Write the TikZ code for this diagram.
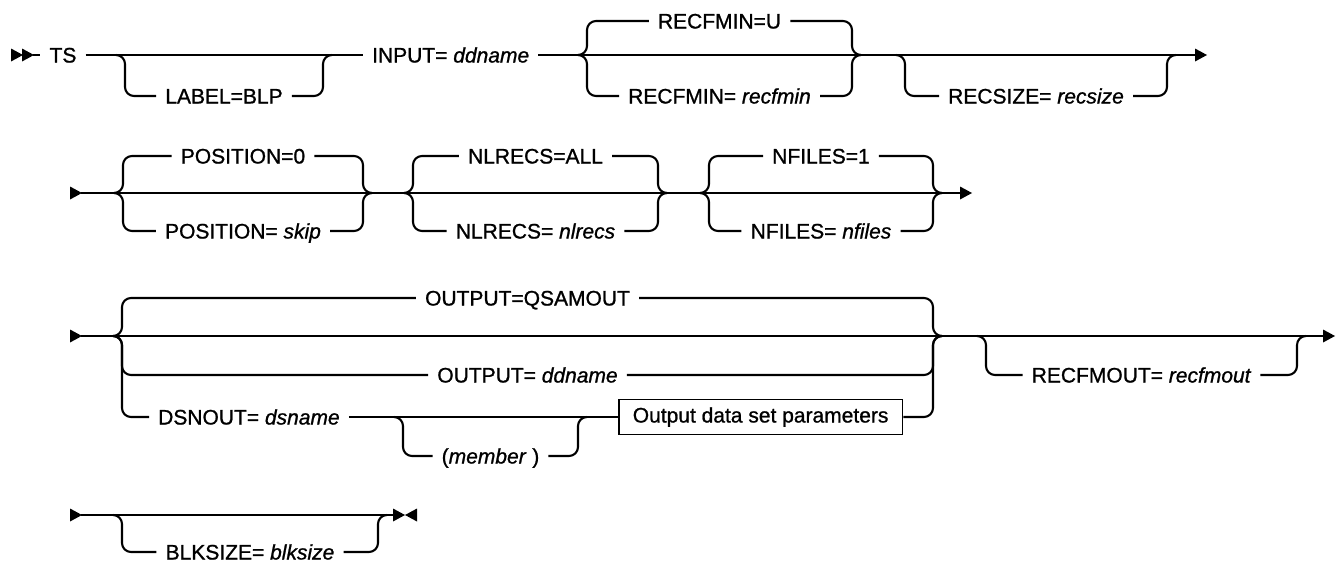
\documentclass[tikz,border=0pt]{standalone}
\usepackage{fontspec}
\setmainfont{Liberation Sans}[FakeBold=1.0]
\newcommand{\rrbranch}[6]{%
  \node[kw] (#1) at ({(#2+9+#3)/2},#5) {#6};
  \draw[ln] (#2,#4) -| (#2+9,#5) -- (#1.west);
  \draw[ln] (#1.east) -| (#3,#4) -- (#3+9,#4);
}
\begin{document}
\begin{tikzpicture}[x=1pt,y=-1pt,
  ln/.style={line width=2.1pt, rounded corners=9pt},
  kw/.style={font=\fontsize{21}{25}\selectfont, inner xsep=9pt, inner ysep=0pt, text height=15pt, text depth=0pt},
  boxn/.style={font=\fontsize{21}{25}\selectfont, draw, line width=1.6pt, inner xsep=14pt, inner ysep=7.5pt, text height=15.5pt, text depth=4.5pt},
  rtri/.pic={\fill (0,-6.5) -- (12,0) -- (0,6.5) -- cycle;},
  ltri/.pic={\fill (12,-6.5) -- (0,0) -- (12,6.5) -- cycle;}
]
\useasboundingbox (0,0) rectangle (1340,568);

% ---------- Row 1 ----------
\pic at (11,55) {rtri};
\pic at (22,55) {rtri};
\coordinate (s1) at (33,55);
\node[kw] (ts) at (63,55) {TS};
\node[kw,anchor=west] (input) at (363,55) {INPUT= \textit{ddname}};
\coordinate (a1) at (1195,55);
\draw[ln] (s1) -- (ts);
\draw[ln] (ts) -- (input);
\draw[ln] (input) -- (a1);
\pic at (a1) {rtri};
\rrbranch{label}{116}{323}{55}{96}{LABEL=BLP}
\rrbranch{rfu}{578}{852}{55}{21}{RECFMIN=U}
\rrbranch{rfr}{578}{852}{55}{96}{RECFMIN= \textit{recfmin}}
\rrbranch{rs}{896}{1167}{55}{96}{RECSIZE= \textit{recsize}}

% ---------- Row 2 ----------
\pic at (70,193) {rtri};
\coordinate (b2) at (81,193);
\coordinate (a2) at (960,193);
\draw[ln] (b2) -- (a2);
\pic at (a2) {rtri};
\rrbranch{p0}{114}{363}{193}{156}{POSITION=0}
\rrbranch{ps}{114}{363}{193}{231}{POSITION= \textit{skip}}
\rrbranch{na}{404}{658}{193}{156}{NLRECS=ALL}
\rrbranch{nn}{404}{658}{193}{231}{NLRECS= \textit{nlrecs}}
\rrbranch{f1}{700}{933}{193}{156}{NFILES=1}
\rrbranch{fn}{700}{933}{193}{231}{NFILES= \textit{nfiles}}

% ---------- Row 3 ----------
\pic at (70,336) {rtri};
\coordinate (b3) at (81,336);
\coordinate (a3) at (1323,336);
\draw[ln] (b3) -- (a3);
\pic at (a3) {rtri};
\rrbranch{qs}{113}{933}{336}{298}{OUTPUT=QSAMOUT}
\rrbranch{od}{113}{933}{336}{375}{OUTPUT= \textit{ddname}}
\node[kw,anchor=west] (ds) at (149,417) {DSNOUT= \textit{dsname}};
\node[boxn,anchor=west] (odp) at (618,417) {Output data set parameters};
\draw[ln] (113,336) -| (122,417) -- (ds.west);
\draw[ln] (ds) -- (odp);
\draw[ln] (odp.east) -| (933,336) -- (942,336);
\rrbranch{mem}{394}{578}{417}{456}{(\textit{member} )}
\rrbranch{rfo}{977}{1297}{336}{375}{RECFMOUT= \textit{recfmout}}

% ---------- Row 4 ----------
\pic at (70,515) {rtri};
\coordinate (b4) at (81,515);
\coordinate (e4) at (393,515);
\draw[ln] (b4) -- (e4);
\pic at (e4) {rtri};
\pic at (405,515) {ltri};
\rrbranch{bs}{113}{378}{515}{552}{BLKSIZE= \textit{blksize}}
\end{tikzpicture}
\end{document}
